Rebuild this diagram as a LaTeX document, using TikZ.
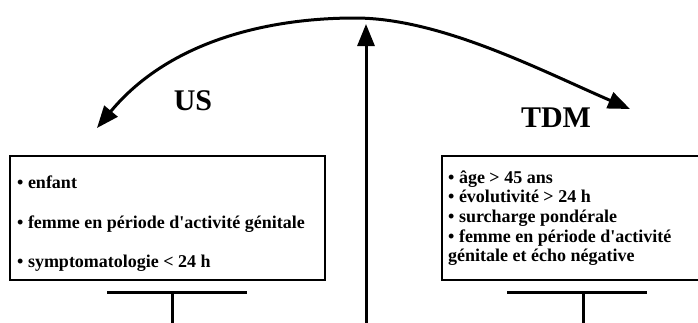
\documentclass[tikz,border=0pt]{standalone}
\usepackage{fontspec}
\setmainfont{Liberation Serif}
\usetikzlibrary{arrows.meta}
\begin{document}
\begin{tikzpicture}[x=1pt,y=-1pt,
  thick line/.style={line width=3pt},
  bigtip/.style={-{Triangle[length=22pt,width=17pt]}},
  box/.style={draw,line width=1.2pt},
  itemtxt/.style={anchor=base west,inner sep=0pt,font=\bfseries\fontsize{18}{20}\selectfont},
  title/.style={font=\bfseries\fontsize{30}{32}\selectfont,inner sep=0pt}]
\useasboundingbox (0,0) rectangle (698,322);
\clip (0,0) rectangle (698,322);
% curved double arrow
\coordinate (L) at (97,128);
\coordinate (P) at (355,18);
\coordinate (R) at (630,109);
\draw[thick line,{Triangle[length=22pt,width=17pt]}-{Triangle[length=22pt,width=17pt]}]
  (L) .. controls (170,40) and (270,18) .. (P) .. controls (440,18) and (540,70) .. (R);
% vertical arrow
\coordinate (vb) at (366,330);
\coordinate (vt) at (366,24);
\draw[thick line,bigtip] (vb) -- (vt);
% labels
\node[title] (us) at (193,101) {US};
\node[title] (tdm) at (556,118) {TDM};
% boxes
\draw[box] (10,156) rectangle (325,280);
\draw[box] (442,156) rectangle (710,280);
% left box text
\node[itemtxt] (l1) at (17,188) {• enfant};
\node[itemtxt] (l2) at (17,228) {• femme en période d\textquotesingle activité génitale};
\node[itemtxt] (l3) at (17,267) {• symptomatologie < 24 h};
% right box text
\node[itemtxt] (r1) at (448,183) {• âge > 45 ans};
\node[itemtxt] (r2) at (448,202) {• évolutivité > 24 h};
\node[itemtxt] (r3) at (448,222) {• surcharge pondérale};
\node[itemtxt] (r4) at (448,242) {• femme en période d\textquotesingle activité};
\node[itemtxt] (r5) at (448,261) {génitale et écho négative};
% T shapes
\coordinate (t1a) at (107,292); \coordinate (t1b) at (247,292);
\coordinate (t1c) at (172,292); \coordinate (t1d) at (172,330);
\draw[thick line] (t1a) -- (t1b);
\draw[thick line] (t1c) -- (t1d);
\coordinate (t2a) at (507,292); \coordinate (t2b) at (647,292);
\coordinate (t2c) at (583,292); \coordinate (t2d) at (583,330);
\draw[thick line] (t2a) -- (t2b);
\draw[thick line] (t2c) -- (t2d);
\end{tikzpicture}
\end{document}
